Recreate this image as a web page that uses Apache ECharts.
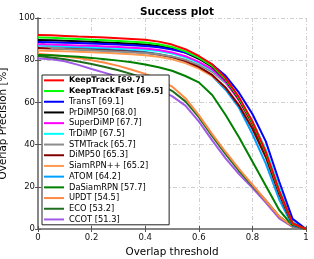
<!DOCTYPE html>
<html><head><meta charset="utf-8">
<script src="https://cdn.jsdelivr.net/npm/echarts@6/dist/echarts.min.js"></script>
<style>html,body{margin:0;padding:0;background:#fff}#c{width:314px;height:259px}</style>
</head><body><div id="c"></div>
<script>
const thresholds = [0,0.05,0.1,0.15,0.2,0.25,0.3,0.35,0.4,0.45,0.5,0.55,0.6,0.65,0.7,0.75,0.8,0.85,0.9,0.95,1];
const trackerNames = ['KeepTrack [69.7]','KeepTrackFast [69.5]','TransT [69.1]','PrDiMP50 [68.0]','SuperDiMP [67.7]','TrDiMP [67.5]','STMTrack [65.7]','DiMP50 [65.3]','SiamRPN++ [65.2]','ATOM [64.2]','DaSiamRPN [57.7]','UPDT [54.5]','ECO [53.2]','CCOT [51.3]'];
const keepTrack     = [92.0,91.8,91.5,91.2,91.0,90.7,90.4,90.1,89.7,88.8,87.4,85.2,82.0,78.0,71.5,62.5,51.0,36.5,18.0,2.7,0];
const keepTrackFast = [90.8,90.6,90.3,90.0,89.7,89.4,89.1,88.8,88.4,87.6,86.3,84.2,81.2,77.3,71.0,62.0,50.5,36.0,17.8,2.5,0];
const transT        = [88.6,88.5,88.3,88.1,87.9,87.7,87.4,87.1,86.7,86.1,85.1,83.6,81.4,77.9,72.6,64.6,54.5,41.5,22.5,4.8,0];
const prDiMP50      = [89.6,89.4,89.2,89.0,88.7,88.4,88.1,87.8,87.4,86.7,85.5,83.6,80.7,76.8,70.6,61.5,50.0,35.5,17.5,2.5,0];
const superDiMP     = [87.6,87.4,87.2,87.0,86.8,86.5,86.2,85.9,85.5,84.8,83.7,81.9,79.2,75.6,69.8,61.0,50.0,36.0,18.0,2.5,0];
const trDiMP        = [87.2,87.0,86.8,86.6,86.4,86.1,85.8,85.4,85.0,84.3,83.2,81.4,78.8,75.2,69.7,61.4,50.8,37.5,19.5,3.0,0];
const stmTrack      = [89.0,85.8,85.3,85.0,84.7,84.4,84.1,83.8,83.4,82.8,81.8,80.2,77.8,74.5,69.2,61.5,51.0,37.5,19.5,3.2,0];
const diMP50        = [85.8,85.6,85.4,85.2,85.0,84.7,84.4,84.0,83.5,82.7,81.5,79.6,76.8,73.0,67.0,58.5,47.5,34.0,16.5,2.0,0];
const siamRPNpp     = [84.6,84.4,84.2,84.0,83.8,83.5,83.2,82.8,82.3,81.6,80.4,78.6,76.0,72.5,67.0,59.0,48.5,35.5,18.5,2.8,0];
const atom          = [87.0,86.7,86.4,86.1,85.8,85.4,85.0,84.5,83.9,82.9,81.6,80.0,77.0,72.5,66.0,57.5,45.0,31.0,14.0,1.5,0];
const daSiamRPN     = [82.5,82.3,82.0,81.6,81.1,80.5,79.8,79.0,78.0,76.7,75.0,72.5,69.5,63.5,54.0,43.5,32.0,20.5,9.0,1.5,0];
const updt          = [83.0,82.5,81.8,81.0,80.0,78.8,77.3,75.5,73.5,71.0,67.5,62.0,54.0,45.0,36.5,28.5,21.0,13.5,6.0,1.2,0];
const eco           = [82.0,81.3,80.4,79.4,78.2,76.8,75.2,73.4,71.3,68.8,65.5,60.5,53.0,44.0,35.5,27.5,20.5,13.5,6.0,1.2,0];
const ccot          = [80.8,80.5,79.5,77.8,75.8,74.0,72.2,70.3,68.3,66.0,63.0,58.5,51.0,42.0,33.5,26.0,19.5,12.5,5.0,1.0,0];
const xTicks = [0,0.2,0.4,0.6,0.8,1];
const yTicks = [0,20,40,60,80,100];

const seriesValues = [keepTrack,keepTrackFast,transT,prDiMP50,superDiMP,trDiMP,stmTrack,diMP50,siamRPNpp,atom,daSiamRPN,updt,eco,ccot];
const colors = ['#ff0000','#00ff00','#0000ff','#000000','#ff00ff','#00ffff','#8c8c8c','#800000','#ff9a50','#00a0ff','#008000','#ff8a45','#1f6e1f','#a05ae6'];
const FONT = 'DejaVu Sans';

const series = [];
for (let i = trackerNames.length - 1; i >= 0; i--) {
  series.push({
    name: trackerNames[i], type: 'line', showSymbol: false, symbol: 'none',
    color: colors[i], lineStyle: {width: 2, color: colors[i]},
    data: thresholds.map((t, k) => [t, seriesValues[i][k]]),
    animation: false
  });
}
const axisLineStyle = {show: true, lineStyle: {color: '#808080', width: 1.5}};
const split = {show: true, lineStyle: {color: '#cfcfcf', width: 1, type: [4,2,1,2]}};
const chart = echarts.init(document.getElementById('c'));
chart.setOption({
  animation: false,
  textStyle: {fontFamily: FONT},
  title: {text: 'Success plot', left: 172, top: 2, textAlign: 'center',
    textStyle: {fontFamily: FONT, fontSize: 10.5, fontWeight: 'bold', color: '#000'}},
  grid: {left: 38, right: 8, top: 18, bottom: 30, containLabel: false, outerBoundsMode: 'none'},
  legend: {
    data: trackerNames, orient: 'vertical', left: 42, top: 75,
    backgroundColor: '#fff', borderColor: '#222', borderWidth: 1, borderRadius: 0,
    padding: [0, 6, 0, 2], itemGap: 0, itemWidth: 20, itemHeight: 2, icon: 'rect',
    formatter: n => (n.startsWith('KeepTrack') ? '{b|' + n + '}' : n),
    textStyle: {fontFamily: FONT, fontSize: 8.3, color: '#000', lineHeight: 10.7,
      rich: {b: {fontFamily: FONT, fontSize: 7.9, fontWeight: 'bold', color: '#000', lineHeight: 10.7}}}
  },
  xAxis: [{
    type: 'value', min: 0, max: 1, interval: 0.2, position: 'bottom',
    name: 'Overlap threshold', nameLocation: 'middle', nameGap: 14,
    nameTextStyle: {fontFamily: FONT, fontSize: 10.4, color: '#000'},
    axisLine: axisLineStyle, axisTick: {show: true, inside: true, length: 3, lineStyle: {color: '#555'}},
    axisLabel: {fontFamily: FONT, fontSize: 8.5, color: '#111', margin: 4,
      formatter: v => (xTicks.some(t => Math.abs(t - v) < 1e-9) ? String(+v.toFixed(1)) : '')},
    splitLine: split
  }, {
    type: 'value', min: 0, max: 1, interval: 0.2, position: 'top',
    axisLine: axisLineStyle, axisTick: {show: true, inside: true, length: 3, lineStyle: {color: '#555'}},
    axisLabel: {show: false}, splitLine: {show: false}
  }],
  yAxis: [{
    type: 'value', min: 0, max: 100, interval: 20, position: 'left',
    name: 'Overlap Precision [%]', nameLocation: 'middle', nameGap: 21,
    nameTextStyle: {fontFamily: FONT, fontSize: 10.4, color: '#000'},
    axisLine: axisLineStyle, axisTick: {show: true, inside: true, length: 3, lineStyle: {color: '#555'}},
    axisLabel: {fontFamily: FONT, fontSize: 8.5, color: '#111', margin: 3,
      formatter: v => (yTicks.indexOf(v) >= 0 ? String(v) : '')},
    splitLine: split
  }, {
    type: 'value', min: 0, max: 100, interval: 20, position: 'right',
    axisLine: axisLineStyle, axisTick: {show: true, inside: true, length: 3, lineStyle: {color: '#555'}},
    axisLabel: {show: false}, splitLine: {show: false}
  }],
  series: series
});
</script></body></html>
